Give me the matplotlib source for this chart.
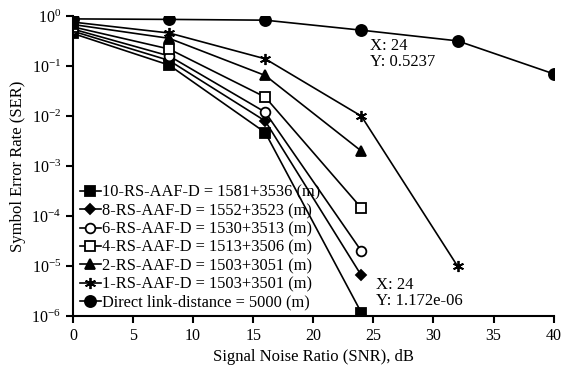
import numpy as np
import matplotlib.pyplot as plt

plt.rcParams['font.family'] = ['Liberation Serif', 'DejaVu Serif']

# ---------- Data ----------
snr = [0, 8, 16, 24, 32, 40]

ser_10rs = [0.45, 0.105, 0.0047, 1.172e-6]
ser_8rs = [0.50, 0.13, 0.0080, 6.5e-6]
ser_6rs = [0.55, 0.16, 0.012, 2.0e-5]
ser_4rs = [0.61, 0.22, 0.024, 1.45e-4]
ser_2rs = [0.68, 0.36, 0.065, 0.0020]
ser_1rs = [0.76, 0.46, 0.14, 0.010, 1.0e-5]
ser_direct = [0.88, 0.86, 0.83, 0.5237, 0.32, 0.07]

labels = ["10-RS-AAF-D = 1581+3536 (m)",
          "8-RS-AAF-D = 1552+3523 (m)",
          "6-RS-AAF-D = 1530+3513 (m)",
          "4-RS-AAF-D = 1513+3506 (m)",
          "2-RS-AAF-D = 1503+3051 (m)",
          "1-RS-AAF-D = 1503+3501 (m)",
          "Direct link-distance = 5000 (m)"]

series = [ser_10rs, ser_8rs, ser_6rs, ser_4rs, ser_2rs, ser_1rs, ser_direct]
# (marker, face colour, size) -- (6, 2, 0) is an asterisk
markers = [("s", "k", 7), ("D", "k", 5.5), ("o", "w", 7), ("s", "w", 7),
           ("^", "k", 7.5), ((6, 2, 0), "k", 8), ("o", "k", 8)]

# ---------- Plot ----------
fig = plt.figure(figsize=(5.65, 3.75), dpi=100)
ax = fig.add_axes([0.129, 0.157, 0.851, 0.8])

for y, lab, (m, fc, ms) in zip(series, labels, markers):
    ax.semilogy(snr[:len(y)], y, color="k", lw=1.2, marker=m, ms=ms,
                mfc=fc, mec="k", mew=1.3, label=lab)

ax.set_xlim(0, 40)
ax.set_ylim(1e-6, 1)
ax.set_xticks(range(0, 41, 5))
ax.set_yticks([10.0 ** k for k in range(-6, 1)])
ax.minorticks_off()
ax.tick_params(direction="out", length=5, width=1.5, labelsize=11.5)
for side in ["top", "right"]:
    ax.spines[side].set_visible(False)
for side in ["left", "bottom"]:
    ax.spines[side].set_linewidth(1.5)

ax.set_xlabel("Signal Noise Ratio (SNR), dB", fontsize=12)
ax.set_ylabel("Symbol Error Rate (SER)", fontsize=12)

ax.text(24.7, 0.36, "X: 24\nY: 0.5237", fontsize=12, va="top", linespacing=1.0)
ax.text(25.2, 6.0e-6, "X: 24\nY: 1.172e-06", fontsize=12, va="top", linespacing=1.0)

ax.legend(loc="lower left", bbox_to_anchor=(-0.01, -0.02), frameon=False,
          fontsize=11.8, handlelength=1.3, handletextpad=0.1,
          labelspacing=0.14, borderpad=0.2)

fig.savefig("out.png", dpi=100)
